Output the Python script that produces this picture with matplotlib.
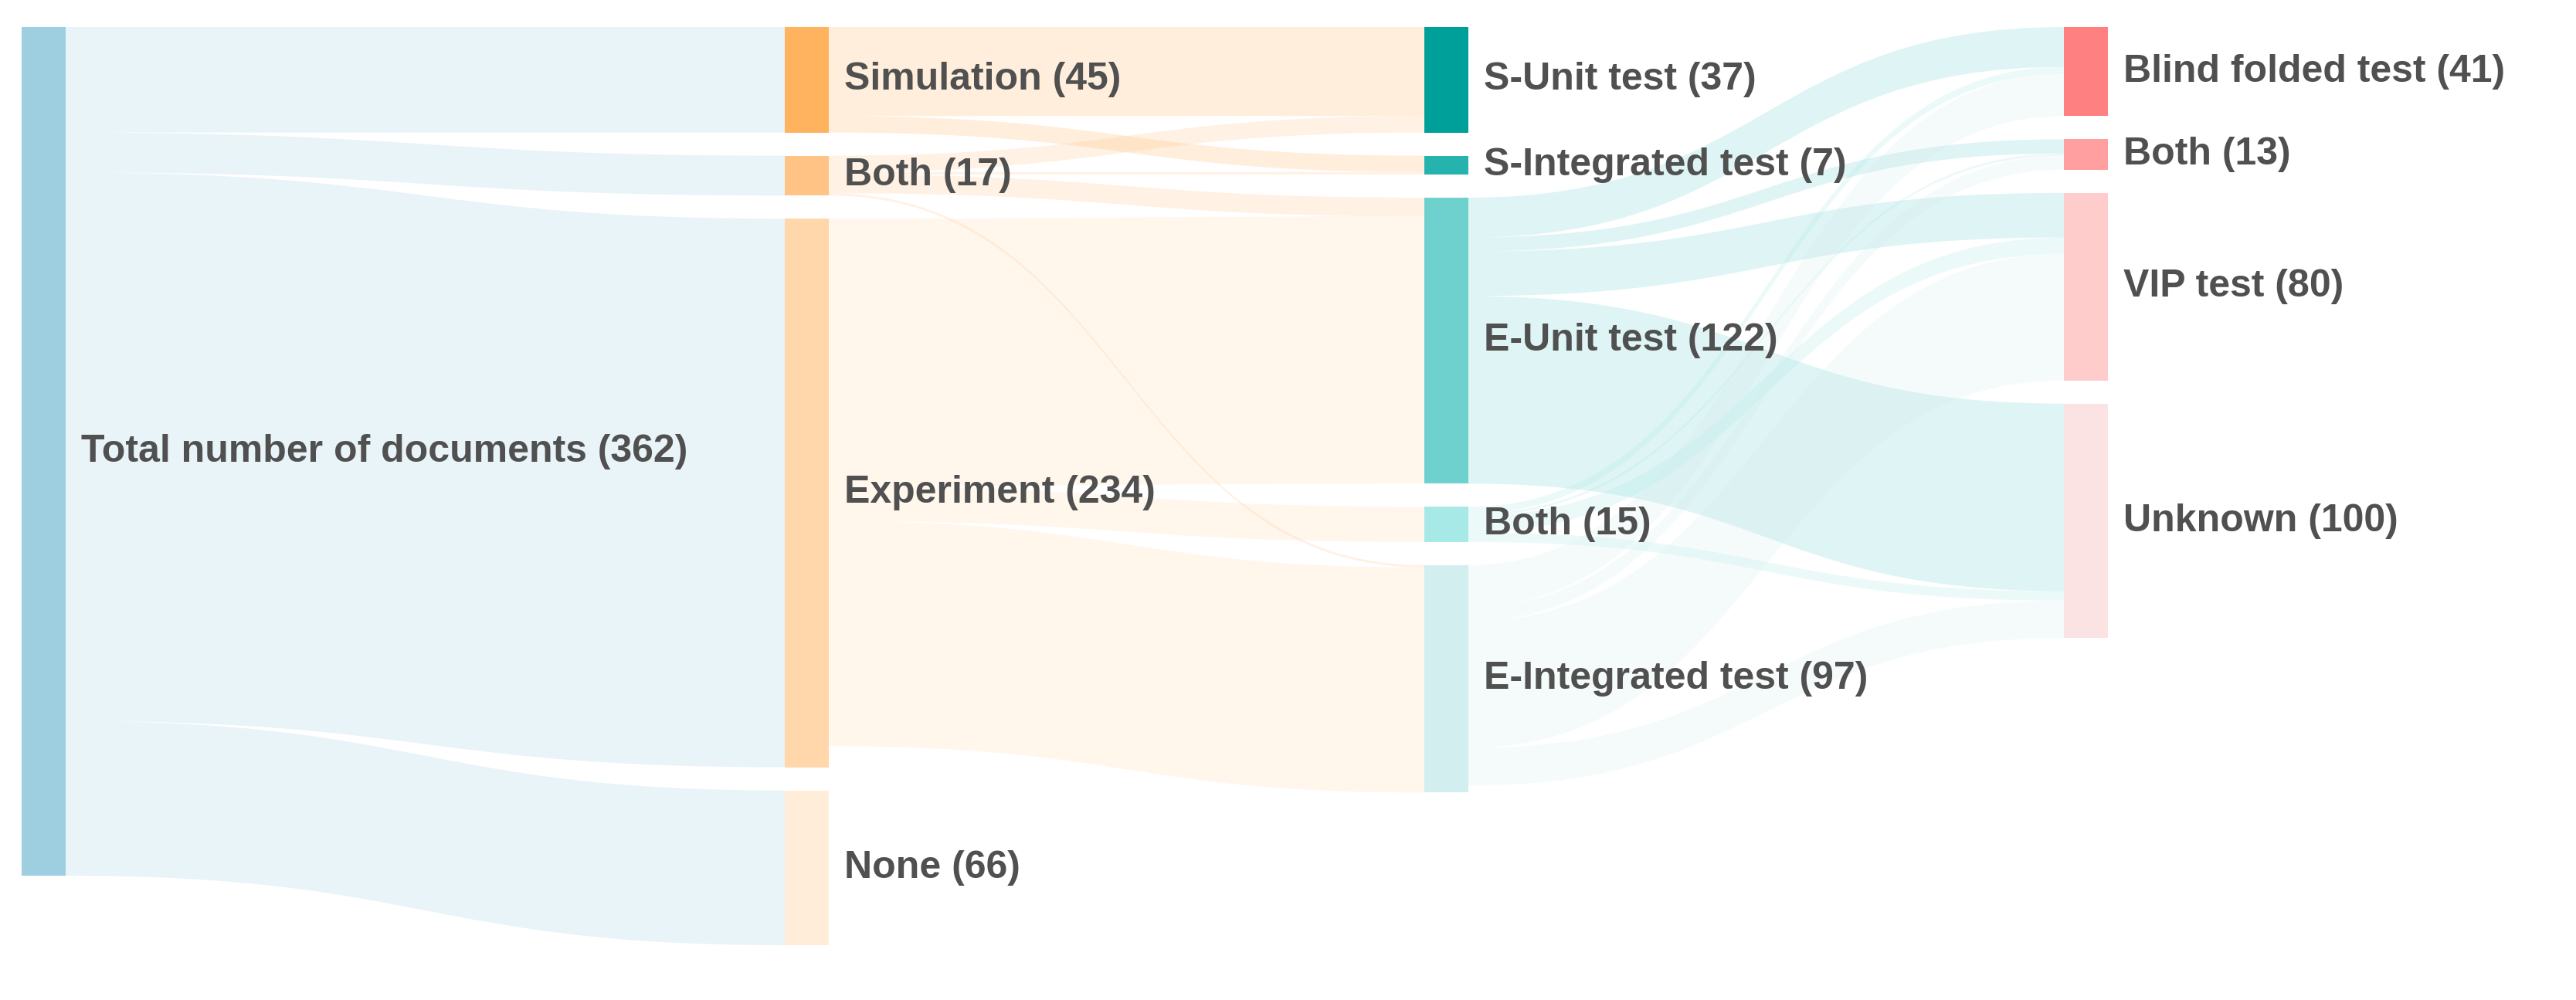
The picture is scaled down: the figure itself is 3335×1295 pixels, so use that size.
import matplotlib
matplotlib.use("Agg")
import matplotlib.pyplot as plt
from matplotlib.path import Path
from matplotlib.patches import PathPatch, Rectangle

# nodes of the sankey, in column order
node_labels = ["Total number of documents (362)",
               "Simulation (45)", "Both (17)", "Experiment (234)", "None (66)",
               "S-Unit test (37)", "S-Integrated test (7)", "E-Unit test (122)", "Both (15)", "E-Integrated test (97)",
               "Blind folded test (41)", "Both (13)", "VIP test (80)", "Unknown (100)"]
node_column = [0, 1, 1, 1, 1, 2, 2, 2, 2, 2, 3, 3, 3, 3]
node_colors = ["#9ecfe1",
               "#ffb35e", "#ffc385", "#ffd7aa", "#ffedd9",
               "#00a09a", "#26b2ad", "#6ed1ce", "#a6e9e7", "#d3eeee",
               "#ff8080", "#ff9f9f", "#ffcccc", "#fbe2e3"]

# links (source index, target index, value)
link_source = [0, 0, 0, 0,
               1, 1,
               2, 2, 2, 2,
               3, 3, 3,
               7, 7, 7, 7,
               8, 8, 8, 8,
               9, 9, 9, 9]
link_target = [1, 2, 3, 4,
               5, 6,
               5, 6, 7, 9,
               7, 8, 9,
               10, 11, 12, 13,
               10, 11, 12, 13,
               10, 11, 12, 13]
link_value = [45, 17, 234, 66,
              38, 7,
              7, 1, 8, 1,
              114, 15, 96,
              17, 6, 19, 80,
              3, 1, 7, 4,
              18, 6, 54, 16]

W, H = 3335, 1295
col_x = [28, 1016, 1844, 2672]
node_w = 57
ky = 3.036      # pixels per document
pad = 30
y_top = 35
link_alpha = 0.22

n = len(node_labels)
inflow = [0] * n
outflow = [0] * n
for s, t, v in zip(link_source, link_target, link_value):
    outflow[s] += v
    inflow[t] += v
node_val = [max(a, b) for a, b in zip(inflow, outflow)]

# stack the nodes in each column from the top
node_y0 = [0.0] * n
for c in range(4):
    y = y_top
    for i in range(n):
        if node_column[i] == c:
            node_y0[i] = y
            y += node_val[i] * ky + pad
node_h = [v * ky for v in node_val]
node_mid = [node_y0[i] + node_h[i] / 2 for i in range(n)]

# link ends: sorted by the other end's position, like plotly does
links = list(range(len(link_value)))
src_y = {}
tgt_y = {}
for i in range(n):
    outs = sorted([k for k in links if link_source[k] == i], key=lambda k: node_mid[link_target[k]])
    y = node_y0[i]
    for k in outs:
        src_y[k] = y
        y += link_value[k] * ky
    ins = sorted([k for k in links if link_target[k] == i], key=lambda k: node_mid[link_source[k]])
    y = node_y0[i]
    for k in ins:
        tgt_y[k] = y
        y += link_value[k] * ky

fig = plt.figure(figsize=(W / 100, H / 100), dpi=100)
ax = fig.add_axes([0, 0, 1, 1])
ax.set_xlim(0, W)
ax.set_ylim(H, 0)
ax.axis("off")

for k in links:
    s, t = link_source[k], link_target[k]
    x0 = col_x[node_column[s]] + node_w
    x1 = col_x[node_column[t]]
    xm = (x0 + x1) / 2
    h = link_value[k] * ky
    a0, a1 = src_y[k], tgt_y[k]
    verts = [(x0, a0), (xm, a0), (xm, a1), (x1, a1),
             (x1, a1 + h), (xm, a1 + h), (xm, a0 + h), (x0, a0 + h), (x0, a0)]
    codes = [Path.MOVETO, Path.CURVE4, Path.CURVE4, Path.CURVE4,
             Path.LINETO, Path.CURVE4, Path.CURVE4, Path.CURVE4, Path.CLOSEPOLY]
    ax.add_patch(PathPatch(Path(verts, codes), facecolor=node_colors[s],
                           alpha=link_alpha, edgecolor="none", zorder=1))

for i in range(n):
    x = col_x[node_column[i]]
    ax.add_patch(Rectangle((x, node_y0[i]), node_w, node_h[i],
                           facecolor=node_colors[i], edgecolor="none", zorder=2))
    ax.text(x + node_w + 20, node_mid[i], node_labels[i], fontsize=36,
            fontweight="bold", color="#505050", va="center", ha="left",
            family=["Liberation Sans", "DejaVu Sans"], zorder=3)

fig.savefig("out.png", dpi=100, facecolor="white")
